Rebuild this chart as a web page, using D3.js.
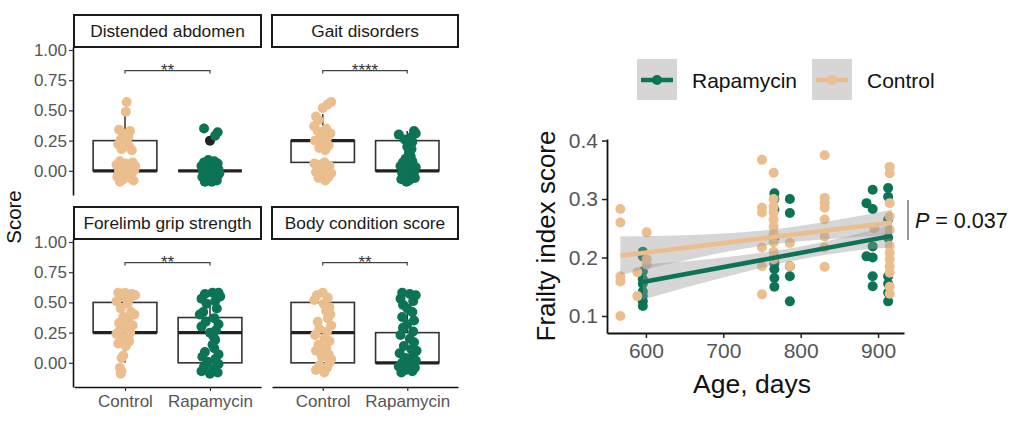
<!DOCTYPE html>
<html><head><meta charset="utf-8">
<script src="https://cdn.jsdelivr.net/npm/d3@7"></script>
<style>body{margin:0;background:#fff;} svg{display:block;}</style>
</head><body><svg id="c" width="1024" height="431"></svg>
<script>
// ---------- DATA: left facets ----------
const groups = ["Control", "Rapamycin"];
const facets = ["Distended abdomen", "Gait disorders", "Forelimb grip strength", "Body condition score"];
const signif = ["**", "****", "**", "**"];
const scoreTicks = [0, 0.25, 0.5, 0.75, 1];
const bracketLevel = 0.83;
// box stats: [lower whisker, q1, median, q3, upper whisker]
const boxControl = [[0,0,0,0.25,0.5],[0,0.07,0.25,0.25,0.47],[0,0.25,0.25,0.5,0.5],[0,0,0.25,0.5,0.5]];
const boxRapamycin = [[0,0,0,0,0],[0,0,0,0.25,0.33],[0,0,0.25,0.375,0.5],[0,0,0,0.25,0.5]];
const outliersRapamycin = [[0.25],[],[],[]];
// jittered observations: [score, jitter (category units)]
const daControl = [[0.57,0.02],[0.49,0.01],[0.34,-0.07],[0.33,0.06],[0.31,-0.02],[0.28,0.04],[0.26,-0.05],[0.24,0.02],[0.22,-0.08],[0.20,0.05],[0.18,-0.04],[0.17,0.08],[0.08,-0.06],[0.07,0.09],[0.06,0.01],[0.05,-0.10],[0.03,0.05],[0.02,-0.03],[0.01,0.11],[0.0,-0.07],[-0.01,0.03],[-0.02,0.08],[-0.03,-0.05],[-0.04,0.0],[-0.05,-0.09],[-0.06,0.06],[-0.07,-0.02],[-0.08,0.10],[-0.09,-0.06],[0.04,0.12]];
const daRapamycin = [[0.35,-0.07],[0.32,0.09],[0.29,0.06],[0.09,-0.02],[0.08,0.05],[0.07,-0.07],[0.06,0.09],[0.05,0.01],[0.04,-0.10],[0.03,0.06],[0.02,-0.04],[0.01,0.10],[0.0,-0.08],[0.0,0.03],[-0.01,0.07],[-0.02,-0.05],[-0.03,0.01],[-0.04,0.09],[-0.05,-0.09],[-0.06,0.04],[-0.07,-0.02],[-0.08,0.08],[-0.09,-0.06],[-0.09,0.02],[0.05,-0.06],[-0.02,0.11],[0.02,0.08],[-0.05,0.05]];
const gaitControl = [[0.57,0.10],[0.55,0.06],[0.52,0.0],[0.45,-0.08],[0.42,-0.05],[0.37,-0.10],[0.35,0.04],[0.33,-0.06],[0.31,0.09],[0.29,-0.02],[0.27,0.05],[0.25,-0.09],[0.23,0.02],[0.21,0.07],[0.19,-0.04],[0.17,0.03],[0.07,0.02],[0.05,-0.06],[0.04,0.08],[0.02,-0.03],[0.0,0.05],[-0.01,-0.08],[-0.03,0.01],[-0.05,0.07],[-0.06,-0.05],[-0.08,0.03],[0.06,-0.10],[-0.02,0.10]];
const gaitRapamycin = [[0.33,0.08],[0.31,0.10],[0.30,-0.10],[0.28,0.05],[0.26,-0.03],[0.24,0.06],[0.22,0.02],[0.20,0.0],[0.18,0.05],[0.15,0.02],[0.12,0.04],[0.10,-0.02],[0.08,0.06],[0.07,-0.05],[0.05,0.03],[0.04,-0.08],[0.02,0.07],[0.01,-0.03],[0.0,0.0],[-0.01,0.08],[-0.02,-0.06],[-0.04,0.04],[-0.05,-0.02],[-0.06,0.09],[-0.07,-0.07],[-0.08,0.02],[-0.09,-0.01],[0.03,0.10]];
const gripControl = [[0.58,-0.08],[0.58,0.0],[0.57,0.08],[0.56,0.12],[0.55,-0.04],[0.53,0.05],[0.51,-0.10],[0.49,0.03],[0.45,-0.05],[0.42,0.07],[0.40,0.11],[0.38,-0.02],[0.35,0.04],[0.33,-0.07],[0.31,0.09],[0.29,0.0],[0.27,-0.06],[0.25,0.06],[0.24,-0.10],[0.22,0.03],[0.20,-0.03],[0.18,0.05],[0.16,-0.08],[0.14,0.01],[0.06,-0.02],[0.04,-0.04],[-0.04,-0.06],[-0.07,-0.04],[-0.09,-0.05]];
const gripRapamycin = [[0.58,0.03],[0.58,0.10],[0.57,-0.06],[0.55,0.12],[0.53,-0.10],[0.51,0.06],[0.49,-0.04],[0.45,0.08],[0.42,-0.08],[0.40,-0.12],[0.37,0.05],[0.34,-0.05],[0.32,0.10],[0.30,-0.10],[0.27,0.07],[0.25,0.0],[0.22,0.04],[0.19,0.06],[0.15,0.03],[0.12,0.05],[0.09,-0.06],[0.07,0.10],[0.05,-0.09],[0.03,0.06],[0.01,-0.03],[-0.01,0.10],[-0.03,-0.07],[-0.05,0.04],[-0.07,-0.10],[-0.09,0.0],[-0.08,0.09]];
const bodyControl = [[0.58,0.0],[0.56,-0.07],[0.54,0.06],[0.52,-0.10],[0.49,0.01],[0.46,0.08],[0.43,0.04],[0.40,0.09],[0.37,0.06],[0.34,-0.06],[0.31,0.10],[0.28,-0.04],[0.26,0.05],[0.23,-0.09],[0.20,0.02],[0.18,0.08],[0.15,-0.05],[0.12,0.04],[0.10,-0.08],[0.07,0.07],[0.05,-0.01],[0.03,0.10],[0.0,0.08],[-0.02,-0.04],[-0.04,0.05],[-0.06,-0.08],[-0.08,0.02],[0.08,0.0]];
const bodyRapamycin = [[0.58,-0.06],[0.57,0.03],[0.56,0.10],[0.53,-0.08],[0.51,0.07],[0.48,-0.05],[0.45,0.0],[0.42,0.06],[0.38,-0.06],[0.35,0.08],[0.32,0.0],[0.29,-0.05],[0.26,0.07],[0.23,-0.08],[0.20,0.03],[0.17,0.08],[0.14,-0.04],[0.11,0.05],[0.08,-0.09],[0.06,0.07],[0.04,-0.02],[0.02,0.10],[0.0,-0.06],[-0.01,0.04],[-0.03,-0.10],[-0.04,0.09],[-0.06,-0.02],[-0.07,0.06],[-0.08,-0.07],[0.10,0.11]];

// ---------- DATA: frailty scatter ----------
const ageTicks = [600, 700, 800, 900];
const fiTicks = [0.1, 0.2, 0.3, 0.4];
const rapaAge = [596,596,596,596,596,596,596,596,596, 766,766,766,766,766,766,766,766,766, 786,786,786,786,786, 885,885, 893,893,893,893,893,893, 913,913,913,913,913,913,913,913];
const rapaFI  = [0.21,0.202,0.176,0.163,0.155,0.142,0.134,0.125,0.117, 0.31,0.3,0.282,0.234,0.2,0.19,0.18,0.165,0.15, 0.3,0.276,0.185,0.168,0.125, 0.293,0.202, 0.316,0.283,0.219,0.2,0.168,0.151, 0.319,0.304,0.265,0.234,0.168,0.155,0.14,0.125];
const ctrlAge = [567,567,567,567,567, 589,589, 601,601,601, 750,750,750,750,750,750, 765,765,765,765,765,765,765,765,765,765, 786,786, 831,831,831,831,831,831,831,831, 895, 915,915,915,915,915,915,915,915,915,915,915,915];
const ctrlFI  = [0.283,0.26,0.168,0.159,0.1, 0.175,0.134, 0.243,0.197,0.188, 0.367,0.285,0.277,0.217,0.185,0.137, 0.345,0.3,0.287,0.277,0.265,0.253,0.24,0.226,0.21,0.197, 0.225,0.185, 0.375,0.302,0.293,0.285,0.265,0.236,0.217,0.184, 0.25, 0.355,0.344,0.293,0.27,0.247,0.22,0.208,0.197,0.185,0.174,0.15,0.138];
// fitted lines and confidence bands
const ctrlFitAge = [567, 918], ctrlFit = [0.203, 0.260];
const rapaFitAge = [596, 918], rapaFit = [0.158, 0.237];
const ctrlBandAge = [567, 650, 750, 850, 918];
const ctrlBandLo = [0.170, 0.195, 0.220, 0.233, 0.238];
const ctrlBandHi = [0.236, 0.238, 0.246, 0.265, 0.282];
const rapaBandAge = [596, 700, 800, 860, 918];
const rapaBandLo = [0.128, 0.166, 0.197, 0.210, 0.217];
const rapaBandHi = [0.188, 0.200, 0.219, 0.236, 0.257];
const legendLabels = ["Rapamycin", "Control"];
const pLabel = "0.037";

// ---------- STYLE ----------
const FONT = '"Liberation Sans", Arial, sans-serif';
const COL = {Control: "#EBBE8E", Rapamycin: "#0C7356"};
const svg = d3.select("#c").style("font-family", FONT);

const ptsByFacet = [[daControl, daRapamycin],[gaitControl, gaitRapamycin],[gripControl, gripRapamycin],[bodyControl, bodyRapamycin]];
const colsX = [[74, 261], [272, 458]];
const rowsY = [[15, 47, 195], [207, 239, 387]];

facets.forEach((name, i) => {
  const c = i % 2, r = Math.floor(i / 2);
  const [x0, x1] = colsX[c];
  const [sTop, pTop, pBot] = rowsY[r];
  const x = d3.scalePoint().domain(groups).range([x0, x1]).padding(0.6);
  const step = x.step();
  const y = d3.scaleLinear().domain([-0.2, 1.025]).range([pBot, pTop]);
  const g = svg.append("g");

  // strip
  g.append("rect").attr("x", x0).attr("y", sTop).attr("width", x1 - x0).attr("height", pTop - sTop)
    .attr("fill", "#fff").attr("stroke", "#1a1a1a").attr("stroke-width", 2);
  g.append("text").attr("x", (x0 + x1) / 2).attr("y", (sTop + pTop) / 2 + 6).attr("text-anchor", "middle")
    .attr("font-size", 17.3).attr("fill", "#1a1a1a").text(name);

  // y axis
  if (c === 0) {
    const ax = g.append("g").attr("transform", `translate(${x0 - 1},0)`)
      .call(d3.axisLeft(y).tickValues(scoreTicks).tickFormat(d3.format(".2f")).tickSize(4).tickSizeOuter(0));
    ax.select(".domain").attr("stroke", "#111").attr("stroke-width", 1.6);
    ax.selectAll(".tick line").attr("stroke", "#333").attr("stroke-width", 1.2);
    ax.selectAll(".tick text").attr("font-size", 17).attr("fill", "#555").attr("font-family", FONT).attr("x", -6);
  }
  // x axis
  if (r === 1) {
    const ax = g.append("g").attr("transform", `translate(0,${pBot})`)
      .call(d3.axisBottom(x).tickSize(4).tickSizeOuter(0));
    ax.select(".domain").attr("stroke", "#111").attr("stroke-width", 1.6);
    ax.selectAll(".tick line").attr("stroke", "#333").attr("stroke-width", 1.2);
    ax.selectAll(".tick text").attr("font-size", 17).attr("fill", "#555").attr("font-family", FONT).attr("y", 8);
  }

  // boxplots
  const boxes = [boxControl[i], boxRapamycin[i]];
  groups.forEach((gr, k) => {
    const [lo, q1, med, q3, hi] = boxes[k];
    const cx = x(gr), bw = 0.75 * step;
    g.append("line").attr("x1", cx).attr("x2", cx).attr("y1", y(q3)).attr("y2", y(hi)).attr("stroke", "#333").attr("stroke-width", 1.5);
    g.append("line").attr("x1", cx).attr("x2", cx).attr("y1", y(q1)).attr("y2", y(lo)).attr("stroke", "#333").attr("stroke-width", 1.5);
    g.append("rect").attr("x", cx - bw / 2).attr("y", y(q3)).attr("width", bw).attr("height", Math.max(0, y(q1) - y(q3)))
      .attr("fill", "#fff").attr("stroke", "#333").attr("stroke-width", 1.6);
    g.append("line").attr("x1", cx - bw / 2).attr("x2", cx + bw / 2).attr("y1", y(med)).attr("y2", y(med))
      .attr("stroke", "#222").attr("stroke-width", 3.2);
    if (k === 1) outliersRapamycin[i].forEach(v => {
      g.append("circle").attr("cx", cx).attr("cy", y(v)).attr("r", 5).attr("fill", "#222");
    });
  });

  // jittered points
  groups.forEach((gr, k) => {
    g.selectAll(null).data(ptsByFacet[i][k]).enter().append("circle")
      .attr("cx", d => x(gr) + d[1] * step).attr("cy", d => y(d[0])).attr("r", 5).attr("fill", COL[gr]);
  });

  // significance bracket
  const by = y(bracketLevel);
  g.append("path").attr("d", `M${x("Control")},${by + 3}V${by}H${x("Rapamycin")}V${by + 3}`)
    .attr("fill", "none").attr("stroke", "#444").attr("stroke-width", 1.2);
  g.append("text").attr("x", (x("Control") + x("Rapamycin")) / 2).attr("y", by + 5).attr("text-anchor", "middle")
    .attr("font-size", 17).attr("fill", "#333").text(signif[i]);
});

// "Score" title
svg.append("text").attr("transform", "translate(21,217) rotate(-90)").attr("text-anchor", "middle")
  .attr("font-size", 20.5).attr("fill", "#111").text("Score");

// ---------- Right scatter ----------
const xs = d3.scaleLinear().domain([549.7, 933.5]).range([607, 904]);
const ys = d3.scaleLinear().domain([0.0709, 0.4027]).range([333, 139]);
const R = svg.append("g");

const yAx = R.append("g").attr("transform", "translate(607,0)")
  .call(d3.axisLeft(ys).tickValues(fiTicks).tickFormat(d3.format(".1f")).tickSize(5).tickSizeOuter(0));
const xAx = R.append("g").attr("transform", "translate(0,333)")
  .call(d3.axisBottom(xs).tickValues(ageTicks).tickFormat(d3.format("d")).tickSize(5).tickSizeOuter(0));
[yAx, xAx].forEach(ax => {
  ax.select(".domain").attr("stroke", "#111").attr("stroke-width", 1.8);
  ax.selectAll(".tick line").attr("stroke", "#222").attr("stroke-width", 1.5);
  ax.selectAll(".tick text").attr("font-size", 21).attr("fill", "#555").attr("font-family", FONT);
});
yAx.selectAll(".tick text").attr("x", -9);
xAx.selectAll(".tick text").attr("y", 10);

// points
const rapaPts = rapaAge.map((a, j) => [a, rapaFI[j]]);
const ctrlPts = ctrlAge.map((a, j) => [a, ctrlFI[j]]);
R.selectAll(null).data(rapaPts).enter().append("circle")
  .attr("cx", d => xs(d[0])).attr("cy", d => ys(d[1])).attr("r", 5).attr("fill", COL.Rapamycin);
R.selectAll(null).data(ctrlPts).enter().append("circle")
  .attr("cx", d => xs(d[0])).attr("cy", d => ys(d[1])).attr("r", 5).attr("fill", COL.Control);

// ribbons
const area = d3.area().x(d => xs(d[0])).y0(d => ys(d[1])).y1(d => ys(d[2])).curve(d3.curveMonotoneX);
R.append("path").datum(rapaBandAge.map((a, j) => [a, rapaBandLo[j], rapaBandHi[j]]))
  .attr("d", area).attr("fill", "#999").attr("fill-opacity", 0.4);
R.append("path").datum(ctrlBandAge.map((a, j) => [a, ctrlBandLo[j], ctrlBandHi[j]]))
  .attr("d", area).attr("fill", "#999").attr("fill-opacity", 0.4);
// fit lines
const line = d3.line().x(d => xs(d[0])).y(d => ys(d[1]));
R.append("path").datum(rapaFitAge.map((a, j) => [a, rapaFit[j]])).attr("d", line)
  .attr("stroke", COL.Rapamycin).attr("stroke-width", 4.5).attr("fill", "none");
R.append("path").datum(ctrlFitAge.map((a, j) => [a, ctrlFit[j]])).attr("d", line)
  .attr("stroke", COL.Control).attr("stroke-width", 4.5).attr("fill", "none");

// axis titles
R.append("text").attr("x", 752).attr("y", 393).attr("text-anchor", "middle").attr("font-size", 26.5).attr("fill", "#111").text("Age, days");
R.append("text").attr("transform", "translate(555,236) rotate(-90)").attr("text-anchor", "middle")
  .attr("font-size", 26).attr("fill", "#111").text("Frailty index score");

// P bracket
R.append("line").attr("x1", 908).attr("x2", 908).attr("y1", 200).attr("y2", 240).attr("stroke", "#777").attr("stroke-width", 1.5);
const pt = R.append("text").attr("x", 915).attr("y", 228).attr("font-size", 21.5).attr("fill", "#111");
pt.append("tspan").attr("font-style", "italic").text("P");
pt.append("tspan").text(" = " + pLabel);

// legend
const legX = [637, 812];
legendLabels.forEach((lab, k) => {
  const lx = legX[k], col = COL[lab];
  const lg = R.append("g");
  lg.append("rect").attr("x", lx).attr("y", 59).attr("width", 40).attr("height", 41).attr("fill", "#d6d6d6");
  lg.append("line").attr("x1", lx + 4).attr("x2", lx + 36).attr("y1", 80).attr("y2", 80).attr("stroke", col).attr("stroke-width", 4.5);
  lg.append("circle").attr("cx", lx + 20).attr("cy", 80).attr("r", 5).attr("fill", col);
  lg.append("text").attr("x", lx + 55).attr("y", 88).attr("font-size", 21).attr("fill", "#111").text(lab);
});
</script>
</body></html>
